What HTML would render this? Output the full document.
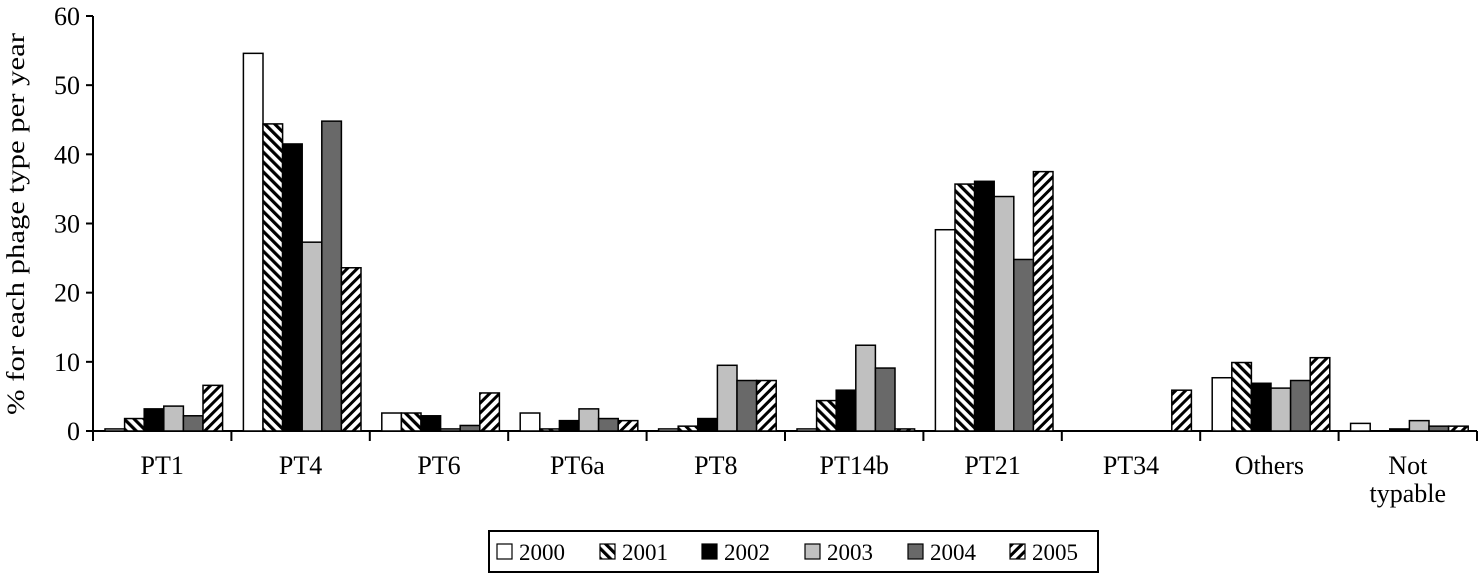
<!DOCTYPE html>
<html><head><meta charset="utf-8"><style>
html,body{margin:0;padding:0;background:#fff;}
svg{display:block;font-family:"Liberation Serif",serif;}
</style></head><body>
<svg id="chart" width="1478" height="574" viewBox="0 0 1478 574" xmlns="http://www.w3.org/2000/svg">
<defs>
<pattern id="p2001" patternUnits="userSpaceOnUse" width="7" height="7" patternTransform="rotate(-45)">
<rect width="7" height="7" fill="#fff"/><rect width="3.2" height="7" fill="#000"/></pattern>
<pattern id="p2005" patternUnits="userSpaceOnUse" width="7" height="7" patternTransform="rotate(45)">
<rect width="7" height="7" fill="#fff"/><rect width="3" height="7" fill="#000"/></pattern>
</defs>
<g id="axes"></g>
<g id="bars"></g>
<text transform="translate(24,224) rotate(-90)" text-anchor="middle" font-size="25" textLength="382" lengthAdjust="spacingAndGlyphs">% for each phage type per year</text>
<g id="legend"></g>
</svg>
<script>
const categories = ["PT1","PT4","PT6","PT6a","PT8","PT14b","PT21","PT34","Others","Not|typable"];
const years = ["2000","2001","2002","2003","2004","2005"];
const v2000 = [0.3,54.6,2.6,2.6,0.3,0.3,29.1,0,7.7,1.1];
const v2001 = [1.8,44.4,2.6,0.3,0.7,4.4,35.7,0,9.9,0];
const v2002 = [3.2,41.5,2.2,1.5,1.8,5.9,36.1,0,6.9,0.3];
const v2003 = [3.6,27.3,0.3,3.2,9.5,12.4,33.9,0,6.2,1.5];
const v2004 = [2.2,44.8,0.8,1.8,7.3,9.1,24.8,0,7.3,0.7];
const v2005 = [6.6,23.6,5.5,1.5,7.3,0.3,37.5,5.9,10.6,0.7];
const yTicks = [0,10,20,30,40,50,60];

const series = [v2000,v2001,v2002,v2003,v2004,v2005];
const fills = ["#fff","url(#p2001)","#000","#c0c0c0","#696969","url(#p2005)"];
const NS="http://www.w3.org/2000/svg";
const x0=93, groupW=138.4, y0=431, yTop=16, yMax=60;
const yS = v => y0 - v/yMax*(y0-yTop);
const gX = i => x0 + i*groupW;
function mk(tag, attrs, parent){const e=document.createElementNS(NS,tag);for(const k in attrs)e.setAttribute(k,attrs[k]);parent.appendChild(e);return e;}
const axes=document.getElementById('axes'), bars=document.getElementById('bars'), legend=document.getElementById('legend');

let yl=mk('line',{x1:x0,y1:yTop,x2:x0,y2:y0,stroke:'#000','stroke-width':2},axes);


let xl=mk('line',{x1:x0-7,y1:y0,x2:x0+categories.length*groupW,y2:y0,stroke:'#000','stroke-width':2},axes);


yTicks.forEach(t=>{
  mk('line',{x1:x0-7,y1:yS(t),x2:x0,y2:yS(t),stroke:'#000','stroke-width':2},axes);
  const tx=mk('text',{x:x0-13,y:yS(t)+9,'text-anchor':'end','font-size':26},axes);
  tx.textContent=t;
  
  
});
for(let i=0;i<=categories.length;i++){
  mk('line',{x1:gX(i),y1:y0,x2:gX(i),y2:y0+10,stroke:'#000','stroke-width':2},axes);
}
categories.forEach((c,i)=>{
  const parts=c.split('|');
  parts.forEach((p,j)=>{
    const tx=mk('text',{x:gX(i)+groupW/2,y:474+j*28,'text-anchor':'middle','font-size':26},axes);
    tx.textContent=p;
    
    
  });
});
const bw=19.6, off=12;
categories.forEach((c,i)=>{
  series.forEach((s,k)=>{
    const v=s[i]; if(v<=0) return;
    const x=gX(i)+off+k*bw, y=yS(v);
    const r=mk('rect',{x:x,y:y,width:bw,height:y0-y,fill:fills[k],stroke:'#000','stroke-width':1.5},bars);
    
    
  });
});
const lb=mk('rect',{x:489,y:531,width:609,height:41,fill:'#fff',stroke:'#000','stroke-width':2},legend);


const lx=[497,600,702,805,908,1010];
years.forEach((yv,k)=>{
  const sw=mk('rect',{x:lx[k],y:544,width:15,height:15,fill:fills[k],stroke:'#000','stroke-width':1.2},legend);
  
  
  const t=mk('text',{x:lx[k]+22,y:560,'font-size':23},legend);
  t.textContent=yv;
  
  
});
</script>
</body></html>
